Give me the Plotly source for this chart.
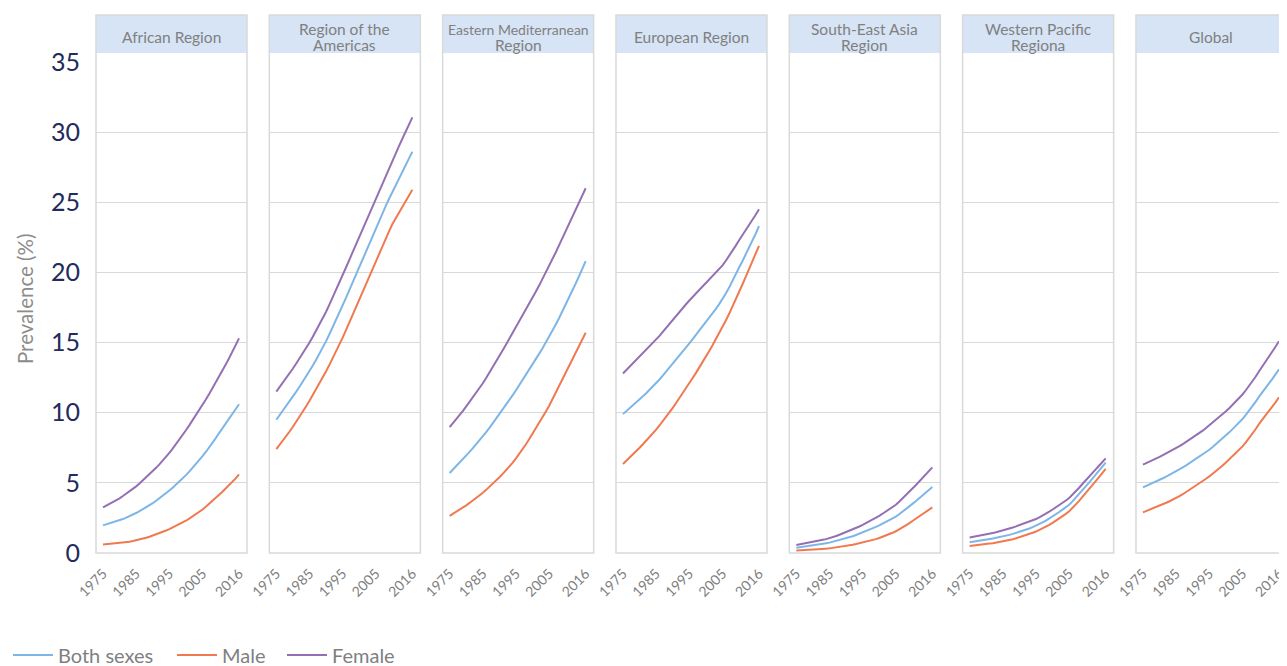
import plotly.graph_objects as go

years = list(range(1975, 2017))
regions = ["African Region", "Region of the Americas", "Eastern Mediterranean Region",
           "European Region", "South-East Asia Region", "Western Pacific Regiona", "Global"]
header_lines = [["African Region"], ["Region of the", "Americas"], ["Eastern Mediterranean", "Region"],
                ["European Region"], ["South-East Asia", "Region"], ["Western Pacific", "Regiona"], ["Global"]]
tick_years = [1975, 1985, 1995, 2005, 2016]
y_ticks = [0, 5, 10, 15, 20, 25, 30, 35]

afr_both = [1.97, 2.04, 2.11, 2.18, 2.25, 2.33, 2.42, 2.52, 2.62, 2.73, 2.85,
            2.98, 3.11, 3.25, 3.40, 3.55, 3.72, 3.89, 4.07, 4.26, 4.45,
            4.65, 4.86, 5.08, 5.31, 5.55, 5.80, 6.06, 6.33, 6.61, 6.90,
            7.20, 7.51, 7.84, 8.19, 8.55, 8.88, 9.21, 9.54, 9.88, 10.23, 10.60]
afr_male = [0.60, 0.62, 0.64, 0.66, 0.68, 0.71, 0.74, 0.77, 0.81, 0.85, 0.90,
            0.96, 1.02, 1.09, 1.16, 1.24, 1.32, 1.41, 1.50, 1.60, 1.70,
            1.81, 1.92, 2.04, 2.17, 2.30, 2.45, 2.60, 2.76, 2.93, 3.10,
            3.29, 3.49, 3.70, 3.92, 4.15, 4.37, 4.59, 4.82, 5.06, 5.32, 5.60]
afr_female = [3.25, 3.37, 3.49, 3.62, 3.76, 3.90, 4.06, 4.22, 4.39, 4.57, 4.75,
              4.95, 5.16, 5.37, 5.59, 5.82, 6.07, 6.32, 6.58, 6.85, 7.13,
              7.44, 7.75, 8.07, 8.41, 8.75, 9.10, 9.45, 9.81, 10.18, 10.55,
              10.94, 11.34, 11.74, 12.14, 12.55, 12.99, 13.43, 13.88, 14.34, 14.81, 15.30]

amr_both = [9.50, 9.82, 10.14, 10.47, 10.81, 11.15, 11.50, 11.85, 12.21, 12.58, 12.95,
            13.36, 13.78, 14.20, 14.64, 15.10, 15.59, 16.09, 16.60, 17.12, 17.65,
            18.19, 18.74, 19.29, 19.84, 20.40, 20.96, 21.52, 22.08, 22.64, 23.20,
            23.72, 24.23, 24.74, 25.25, 25.75, 26.23, 26.71, 27.19, 27.66, 28.13, 28.60]
amr_male = [7.40, 7.70, 8.01, 8.33, 8.66, 9.00, 9.35, 9.71, 10.08, 10.46, 10.85,
            11.25, 11.66, 12.08, 12.51, 12.95, 13.41, 13.88, 14.36, 14.85, 15.35,
            15.89, 16.44, 16.99, 17.54, 18.10, 18.65, 19.20, 19.75, 20.30, 20.85,
            21.38, 21.90, 22.42, 22.94, 23.45, 23.87, 24.28, 24.69, 25.09, 25.49, 25.90]
amr_female = [11.50, 11.82, 12.14, 12.47, 12.81, 13.15, 13.51, 13.87, 14.24, 14.62, 15.00,
              15.42, 15.84, 16.27, 16.72, 17.20, 17.71, 18.22, 18.73, 19.26, 19.80,
              20.35, 20.90, 21.45, 22.00, 22.55, 23.10, 23.65, 24.20, 24.75, 25.30,
              25.84, 26.38, 26.92, 27.46, 28.00, 28.51, 29.02, 29.53, 30.04, 30.55, 31.05]

emr_both = [5.70, 5.94, 6.18, 6.43, 6.69, 6.95, 7.21, 7.47, 7.74, 8.02, 8.30,
            8.61, 8.92, 9.24, 9.57, 9.90, 10.23, 10.57, 10.91, 11.25, 11.60,
            11.96, 12.32, 12.69, 13.07, 13.45, 13.83, 14.21, 14.60, 15.00, 15.40,
            15.84, 16.29, 16.75, 17.22, 17.70, 18.20, 18.70, 19.21, 19.73, 20.26, 20.80]
emr_male = [2.65, 2.79, 2.94, 3.09, 3.24, 3.40, 3.57, 3.74, 3.92, 4.11, 4.30,
            4.50, 4.71, 4.93, 5.16, 5.40, 5.64, 5.89, 6.15, 6.44, 6.75,
            7.07, 7.40, 7.75, 8.12, 8.50, 8.89, 9.28, 9.68, 10.09, 10.50,
            10.97, 11.45, 11.94, 12.44, 12.95, 13.41, 13.87, 14.33, 14.79, 15.24, 15.70]
emr_female = [8.97, 9.25, 9.54, 9.83, 10.13, 10.45, 10.77, 11.09, 11.42, 11.76, 12.10,
              12.47, 12.85, 13.24, 13.64, 14.05, 14.45, 14.86, 15.27, 15.68, 16.10,
              16.51, 16.92, 17.34, 17.76, 18.20, 18.64, 19.08, 19.53, 19.99, 20.45,
              20.94, 21.44, 21.95, 22.47, 23.00, 23.50, 24.00, 24.50, 25.00, 25.50, 26.00]

eur_both = [9.90, 10.10, 10.30, 10.51, 10.73, 10.95, 11.17, 11.39, 11.62, 11.86, 12.10,
            12.37, 12.64, 12.92, 13.21, 13.50, 13.79, 14.08, 14.37, 14.66, 14.95,
            15.25, 15.55, 15.85, 16.15, 16.45, 16.75, 17.07, 17.40, 17.74, 18.10,
            18.50, 18.92, 19.36, 19.83, 20.35, 20.80, 21.27, 21.75, 22.25, 22.76, 23.30]
eur_male = [6.35, 6.57, 6.79, 7.02, 7.26, 7.50, 7.75, 8.00, 8.26, 8.53, 8.80,
            9.09, 9.39, 9.70, 10.02, 10.35, 10.69, 11.03, 11.38, 11.74, 12.10,
            12.47, 12.84, 13.21, 13.60, 14.00, 14.40, 14.81, 15.23, 15.66, 16.10,
            16.57, 17.05, 17.55, 18.07, 18.60, 19.14, 19.68, 20.23, 20.78, 21.34, 21.90]
eur_female = [12.80, 13.04, 13.28, 13.52, 13.76, 14.00, 14.24, 14.48, 14.72, 14.96, 15.20,
              15.48, 15.77, 16.06, 16.36, 16.65, 16.92, 17.19, 17.46, 17.73, 18.00,
              18.25, 18.50, 18.75, 19.00, 19.25, 19.50, 19.75, 20.00, 20.25, 20.50,
              20.83, 21.17, 21.53, 21.91, 22.30, 22.65, 23.00, 23.36, 23.73, 24.11, 24.50]

sear_both = [0.38, 0.41, 0.44, 0.47, 0.50, 0.54, 0.58, 0.62, 0.66, 0.70, 0.74,
             0.80, 0.86, 0.92, 0.98, 1.05, 1.12, 1.20, 1.28, 1.37, 1.46,
             1.55, 1.65, 1.75, 1.86, 1.97, 2.09, 2.21, 2.33, 2.46, 2.60,
             2.76, 2.93, 3.11, 3.30, 3.50, 3.69, 3.88, 4.07, 4.27, 4.48, 4.70]
sear_male = [0.17, 0.18, 0.20, 0.21, 0.22, 0.24, 0.26, 0.27, 0.29, 0.31, 0.33,
             0.36, 0.39, 0.43, 0.47, 0.51, 0.55, 0.59, 0.64, 0.69, 0.74,
             0.80, 0.86, 0.92, 0.99, 1.07, 1.15, 1.24, 1.34, 1.44, 1.55,
             1.68, 1.81, 1.95, 2.11, 2.28, 2.44, 2.60, 2.76, 2.92, 3.08, 3.25]
sear_female = [0.57, 0.61, 0.65, 0.70, 0.74, 0.79, 0.84, 0.89, 0.94, 0.99, 1.05,
               1.13, 1.21, 1.30, 1.39, 1.48, 1.58, 1.68, 1.78, 1.89, 2.00,
               2.12, 2.24, 2.37, 2.51, 2.65, 2.80, 2.95, 3.11, 3.27, 3.44,
               3.65, 3.87, 4.10, 4.34, 4.60, 4.83, 5.07, 5.31, 5.56, 5.83, 6.10]

wpr_both = [0.77, 0.80, 0.84, 0.87, 0.91, 0.95, 0.99, 1.03, 1.08, 1.12, 1.17,
            1.23, 1.29, 1.36, 1.43, 1.50, 1.58, 1.66, 1.75, 1.84, 1.94,
            2.06, 2.18, 2.31, 2.45, 2.60, 2.76, 2.92, 3.09, 3.26, 3.44,
            3.68, 3.93, 4.19, 4.46, 4.75, 5.02, 5.29, 5.56, 5.84, 6.14, 6.44]
wpr_male = [0.50, 0.52, 0.55, 0.58, 0.61, 0.64, 0.67, 0.70, 0.74, 0.77, 0.81,
            0.86, 0.92, 0.98, 1.05, 1.12, 1.19, 1.27, 1.35, 1.44, 1.53,
            1.64, 1.75, 1.88, 2.01, 2.15, 2.30, 2.45, 2.62, 2.79, 2.97,
            3.20, 3.45, 3.71, 4.00, 4.30, 4.57, 4.84, 5.12, 5.41, 5.70, 6.00]
wpr_female = [1.10, 1.14, 1.19, 1.23, 1.28, 1.33, 1.38, 1.43, 1.48, 1.54, 1.60,
              1.67, 1.74, 1.82, 1.90, 1.98, 2.06, 2.14, 2.23, 2.32, 2.42,
              2.54, 2.66, 2.80, 2.95, 3.10, 3.25, 3.41, 3.57, 3.74, 3.92,
              4.15, 4.39, 4.65, 4.92, 5.20, 5.45, 5.70, 5.96, 6.22, 6.48, 6.75]

glb_both = [4.68, 4.78, 4.89, 5.00, 5.11, 5.22, 5.33, 5.45, 5.57, 5.69, 5.82,
            5.96, 6.10, 6.25, 6.40, 6.55, 6.70, 6.86, 7.02, 7.19, 7.36,
            7.55, 7.75, 7.95, 8.16, 8.38, 8.60, 8.83, 9.06, 9.30, 9.55,
            9.84, 10.14, 10.45, 10.79, 11.15, 11.45, 11.76, 12.08, 12.41, 12.75, 13.10]
glb_male = [2.90, 2.99, 3.08, 3.18, 3.28, 3.38, 3.48, 3.58, 3.69, 3.80, 3.92,
            4.05, 4.19, 4.34, 4.49, 4.65, 4.81, 4.97, 5.13, 5.29, 5.46,
            5.64, 5.83, 6.03, 6.24, 6.45, 6.67, 6.89, 7.12, 7.36, 7.60,
            7.89, 8.19, 8.50, 8.84, 9.20, 9.50, 9.80, 10.11, 10.43, 10.76, 11.10]
glb_female = [6.30, 6.40, 6.51, 6.62, 6.73, 6.85, 6.97, 7.09, 7.22, 7.35, 7.48,
              7.62, 7.76, 7.91, 8.06, 8.22, 8.38, 8.55, 8.72, 8.91, 9.10,
              9.29, 9.48, 9.68, 9.89, 10.10, 10.32, 10.55, 10.79, 11.04, 11.30,
              11.60, 11.91, 12.23, 12.58, 12.95, 13.29, 13.63, 13.98, 14.35, 14.72, 15.10]

both_sexes = [afr_both, amr_both, emr_both, eur_both, sear_both, wpr_both, glb_both]
male = [afr_male, amr_male, emr_male, eur_male, sear_male, wpr_male, glb_male]
female = [afr_female, amr_female, emr_female, eur_female, sear_female, wpr_female, glb_female]

series = [("Both sexes", both_sexes, "#7db6e6", "legend"),
          ("Male", male, "#f0794f", "legend2"),
          ("Female", female, "#9470b2", "legend3")]

W, H = 1287, 666
OFF = 8.0  # page body margin
FONT = "Lato"
panel_left0, panel_pitch, panel_w = 96.0 - OFF, 173.33, 151.0
plot_top, plot_bottom = 62.0 - OFF, 553.0 - OFF
head_top, head_bottom = 15.0 - OFF, 53.0 - OFF
legend_line_x = [13.0, 177.0, 287.0]
legend_y = 655.0

fig = go.Figure()
layout = dict(
    width=W, height=H,
    autosize=False,
    margin=dict(l=0, r=0, t=0, b=0, pad=0, autoexpand=False),
    paper_bgcolor="white", plot_bgcolor="white",
    showlegend=True,
    font=dict(family=FONT, color="#7f7f7f"),
)
for k, (name, _, _, leg) in enumerate(series):
    layout[leg] = dict(orientation="h", x=max(0.0, legend_line_x[k] - OFF - 5) / W, xanchor="left",
                       y=(H - (legend_y - OFF)) / H, yanchor="middle",
                       font=dict(size=20, color="#7f7f7f", family=FONT),
                       itemwidth=40, bgcolor="rgba(0,0,0,0)")
shapes, annotations = [], []

for i, region in enumerate(regions):
    left = panel_left0 + i * panel_pitch
    right = left + panel_w
    sfx = "" if i == 0 else str(i + 1)
    xa, ya = "x" + sfx, "y" + sfx
    for name, data, color, leg in series:
        fig.add_trace(go.Scatter(
            x=years, y=data[i], mode="lines", name=name, legendgroup=name, legend=leg,
            showlegend=(i == 0), line=dict(color=color, width=2),
            xaxis=xa, yaxis=ya, hoverinfo="skip"))
    layout["xaxis" + sfx] = dict(
        domain=[left / W, right / W], range=[1972.89, 2018.41], automargin=False,
        tickmode="array", tickvals=tick_years, ticktext=[str(t) for t in tick_years],
        tickangle=-45, ticks="outside", ticklen=6, tickcolor="rgba(0,0,0,0)",
        tickfont=dict(size=14, color="#7f7f7f", family=FONT),
        showgrid=False, zeroline=False, showline=False, anchor=ya, fixedrange=True)
    layout["yaxis" + sfx] = dict(
        domain=[(H - plot_bottom) / H, (H - plot_top) / H], range=[0, 35], automargin=False,
        tickmode="array", tickvals=y_ticks,
        showticklabels=(i == 0), ticks="outside" if i == 0 else "", ticklen=10,
        tickcolor="rgba(0,0,0,0)",
        tickfont=dict(size=25, color="#222b5b", family=FONT),
        showgrid=True, gridcolor="#d9d9d9", gridwidth=1,
        zeroline=False, showline=False, anchor=xa, fixedrange=True)
    # header band
    shapes.append(dict(type="rect", xref="paper", yref="paper",
                       x0=left / W, x1=right / W,
                       y0=(H - head_bottom) / H, y1=(H - head_top) / H,
                       fillcolor="#d6e4f5", line=dict(width=0), layer="below"))
    # panel frame
    shapes.append(dict(type="rect", xref="paper", yref="paper",
                       x0=left / W, x1=right / W,
                       y0=(H - plot_bottom) / H, y1=(H - head_top) / H,
                       fillcolor="rgba(0,0,0,0)", line=dict(color="#d9d9d9", width=1.5)))
    lines = header_lines[i]
    cx = (left + right) / 2 / W
    if len(lines) == 1:
        ys = [37.0 - OFF]
    else:
        ys = [29.0 - OFF, 45.0 - OFF]
    for txt, yy in zip(lines, ys):
        size = 14.0 if len(txt) > 18 else 15.5
        annotations.append(dict(text=txt, x=cx, y=(H - yy) / H, xref="paper", yref="paper",
                                xanchor="center", yanchor="middle", showarrow=False,
                                font=dict(size=size, color="#808080", family=FONT)))

annotations.append(dict(text="Prevalence (%)", x=(25 - OFF) / W, y=(H - (299 - OFF)) / H,
                        xref="paper", yref="paper",
                        textangle=-90, xanchor="center", yanchor="middle", showarrow=False,
                        font=dict(size=20.5, color="#8c8c8c", family=FONT)))

layout["shapes"] = shapes
layout["annotations"] = annotations
fig.update_layout(**layout)
fig.write_html("out.html")
